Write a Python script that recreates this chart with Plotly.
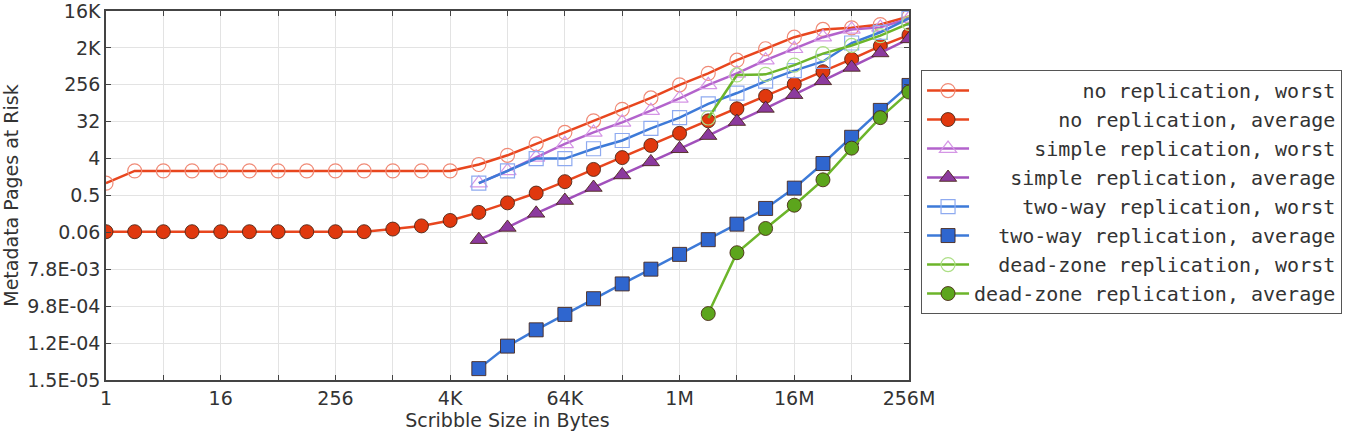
import plotly.graph_objects as go

# x categories: scribble size in bytes (powers of two, 1 .. 256M)
sizes = [1, 2, 4, 8, 16, 32, 64, 128, 256, 512, 1024, 2048, 4096, 8192, 16384,
         32768, 65536, 131072, 262144, 524288, 1048576, 2097152, 4194304,
         8388608, 16777216, 33554432, 67108864, 134217728, 268435456]

# series values (metadata pages at risk)
no_rep_worst = [1, 2, 2, 2, 2, 2, 2, 2, 2, 2, 2, 2, 2, 2.87, 4.82, 9.2, 17.5,
                33.6, 64, 122, 256, 488, 1024, 1950, 3740, 5790, 6340, 7640, 12000]
no_rep_avg = [0.065, 0.065, 0.065, 0.065, 0.065, 0.065, 0.065, 0.065, 0.065,
              0.065, 0.0754, 0.0902, 0.1225, 0.193, 0.33, 0.574, 1.09, 2.17,
              4.23, 8.4, 16.6, 33.6, 66.3, 134, 265, 537, 1082, 2270, 4240]
# the following series start at 8K (index 13)
simple_worst = [1, 2, 4.3, 9.2, 17.5, 30.9, 59.7, 119, 256, 488, 1024, 1950,
                3740, 5790, 6510, 10800]
simple_avg = [0.0415, 0.0825, 0.183, 0.376, 0.785, 1.59, 3.32, 6.96, 14.6, 32.2,
              67.6, 147, 320, 680, 1540, 3400]
twoway_worst = [1, 2, 4, 4, 6.96, 11.1, 21.9, 40.2, 87.4, 161, 315, 568, 955,
                2700, 4940, 10800]
twoway_avg = [2.9e-5, 1.03e-4, 2.58e-4, 6.15e-4, 1.49e-3, 3.43e-3, 7.87e-3,
              0.0181, 0.0415, 0.0994, 0.241, 0.758, 3.03, 13.3, 60.5, 247]
# dead-zone series start at 2M (index 21)
deadzone_worst = [39.4, 446, 461, 776, 1480, 2350, 4096, 8190]
deadzone_avg = [6.45e-4, 0.0199, 0.078, 0.289, 1.21, 7.2, 40.2, 170]

x_tickvals = [1, 4, 16, 64, 256, 1024, 4096, 16384, 65536, 262144, 1048576,
              4194304, 16777216, 67108864, 268435456]
x_ticktext = ["1", "", "16", "", "256", "", "4K", "", "64K", "", "1M", "",
              "16M", "", "256M"]
y_tickvals = [2**-16, 2**-13, 2**-10, 2**-7, 2**-4, 2**-1, 2**2, 2**5, 2**8,
              2**11, 2**14]
y_ticktext = ["1.5E-05", "1.2E-04", "9.8E-04", "7.8E-03", "0.06", "0.5", "4",
              "32", "256", "2K", "16K"]

names = ["no replication, worst", "no replication, average",
         "simple replication, worst", "simple replication, average",
         "two-way replication, worst", "two-way replication, average",
         "dead-zone replication, worst", "dead-zone replication, average"]
maxlen = max(len(n) for n in names)
labels = ["\u00a0" * (maxlen - len(n)) + n for n in names]

series = [
    (sizes, no_rep_worst, "circle-open", "#e8461e", "#f08a76", 1.2),
    (sizes, no_rep_avg, "circle", "#e8461e", "#e0380e", 1),
    (sizes[13:], simple_worst, "triangle-up-open", "#b363cc", "#d596e6", 1.2),
    (sizes[13:], simple_avg, "triangle-up", "#a150bb", "#8c3a9e", 1),
    (sizes[13:], twoway_worst, "square-open", "#3d7ad8", "#8eaaf0", 1.2),
    (sizes[13:], twoway_avg, "square", "#3d7ad8", "#2f66cf", 1),
    (sizes[21:], deadzone_worst, "circle-open", "#6cb52a", "#addf86", 1.2),
    (sizes[21:], deadzone_avg, "circle", "#6cb52a", "#5ca51c", 1),
]

fig = go.Figure()
for (xs, ys, sym, lc, mc, lw), lab in zip(series, labels):
    filled = not sym.endswith("open")
    marker = dict(symbol=sym, size=14 if "triangle" not in sym else 15, color=mc)
    if filled:
        marker["line"] = dict(color="rgba(70,35,20,0.85)", width=1)
    else:
        marker["line"] = dict(color=mc, width=lw)
    fig.add_trace(go.Scatter(
        x=xs, y=ys, mode="lines+markers", name=lab, legendgroup=lab,
        line=dict(color=lc, width=2.5), marker=marker,
    ))

axis_common = dict(
    showline=True, linecolor="#444", linewidth=1.5, mirror="ticks",
    ticks="inside", ticklen=5, tickcolor="#444",
    showgrid=True, gridcolor="#e3e3e3", gridwidth=1, zeroline=False,
    ticklabeloverflow="allow", automargin=False,
    tickfont=dict(family="DejaVu Sans", size=19, color="#333"),
)

fig.update_layout(
    width=1347, height=432,
    margin=dict(l=106, r=438, t=11, b=52, autoexpand=False),
    paper_bgcolor="white", plot_bgcolor="white",
    xaxis=dict(type="log", range=[0, 28 * 0.30103], tickvals=x_tickvals,
               ticktext=x_ticktext,
               title=dict(text="Scribble Size in Bytes", standoff=4,
                          font=dict(family="DejaVu Sans", size=19, color="#333")),
               **axis_common),
    yaxis=dict(type="log", range=[-16 * 0.30103, 14 * 0.30103],
               tickvals=y_tickvals, ticktext=y_ticktext,
               title=dict(text="Metadata Pages at Risk", standoff=4,
                          font=dict(family="DejaVu Sans", size=19, color="#333")),
               **axis_common),
    legend=dict(x=1.015, xanchor="left", xref="paper", y=0.840, yanchor="top",
                bordercolor="#555", borderwidth=1, bgcolor="white",
                font=dict(family="DejaVu Sans Mono", size=20, color="#333"),
                traceorder="grouped", tracegroupgap=0, itemwidth=42),
    showlegend=True,
)

fig.write_html("out.html")
